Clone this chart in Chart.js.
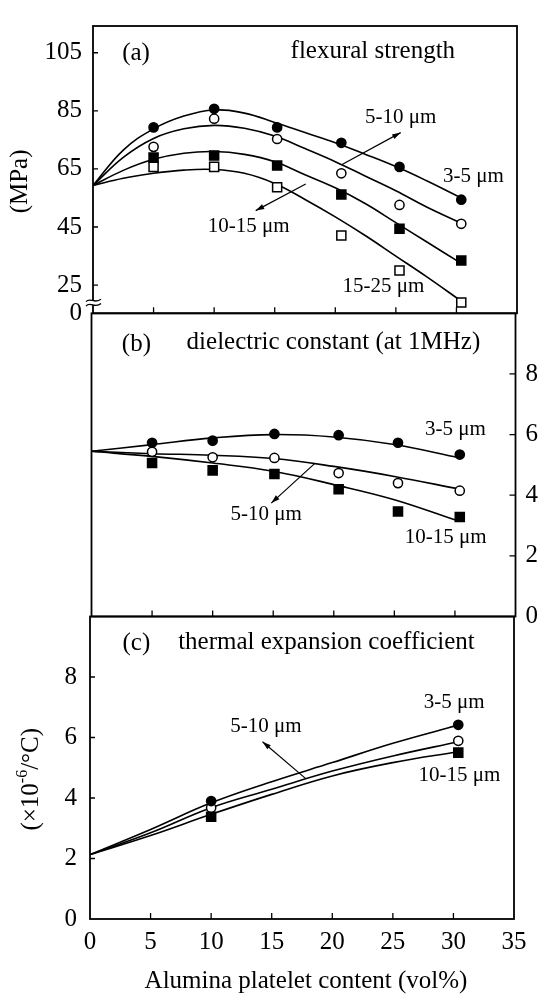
<!DOCTYPE html>
<html>
<head>
<meta charset="utf-8">
<script src="https://cdn.jsdelivr.net/npm/chart.js@4.4.1/dist/chart.umd.min.js"></script>
<style>
  body { margin: 0; background: #fff; }
  #wrap { position: relative; width: 539px; height: 997px; }
  canvas { position: absolute; left: 0; top: 0; }
</style>
</head>
<body>
<div id="wrap">
  <canvas id="chartA" width="539" height="997"></canvas>
  <canvas id="chartB" width="539" height="997"></canvas>
  <canvas id="chartC" width="539" height="997"></canvas>
</div>
<script>
// (a) flexural strength, MPa
let contentA = [5, 10, 15.2, 20.5, 25.3, 30.4];
let strength35 = [79.3, 85.7, 79.3, 74.0, 65.7, 54.4];
let strength510 = [72.6, 82.3, 75.3, 63.5, 52.6, 46.1];
let strength1015 = [68.9, 69.6, 66.2, 56.2, 44.4, 33.5];
let strength1525 = [65.7, 65.7, 58.7, 42.1, 30.0, 19.0];
let fitXA = [0, 2.5, 5, 7.5, 10, 12.5, 15, 17.5, 20, 22.5, 25, 27.5, 30.4];
let fitStrength35 = [59.3, 71.5, 78.8, 83.2, 85.3, 84.2, 81, 77.5, 74, 70, 65.8, 61, 55];
let fitStrength510 = [59.3, 69, 75.5, 78.8, 80, 79, 76.3, 72, 67.5, 62.5, 57.5, 52, 46.3];
let fitStrength1015 = [59.3, 64.5, 68.3, 70.4, 71, 70, 67.5, 63, 58.5, 53, 46.5, 40, 32.5];
let fitStrength1525 = [59.3, 61.8, 63.5, 64.6, 64.8, 63.5, 60, 54.5, 48.5, 42, 35, 28, 19.5];
let yTicksA = [15.3, 25, 45, 65, 85, 105];

// (b) dielectric constant at 1MHz
let contentB = [5, 10, 15.1, 20.4, 25.3, 30.4];
let dielectric35 = [5.73, 5.80, 6.02, 5.98, 5.73, 5.34];
let dielectric510 = [5.43, 5.25, 5.23, 4.73, 4.40, 4.15];
let dielectric1015 = [5.06, 4.82, 4.70, 4.20, 3.46, 3.28];
let fitXB = [0, 5, 10, 15, 20, 25, 30.4];
let fitDielectric35 = [5.45, 5.67, 5.89, 6.0, 5.92, 5.67, 5.23];
let fitDielectric510 = [5.45, 5.37, 5.32, 5.21, 4.95, 4.62, 4.2];
let fitDielectric1015 = [5.45, 5.28, 5.06, 4.79, 4.35, 3.85, 3.13];

// (c) thermal expansion coefficient, x10^-6/°C
let contentC = [10, 30.4];
let thermal35 = [3.90, 6.42];
let thermal510 = [3.68, 5.89];
let thermal1015 = [3.38, 5.50];
let fitXC = [0, 5, 10, 15, 20, 25, 30.4];
let fitThermal35 = [2.13, 2.96, 3.84, 4.54, 5.17, 5.81, 6.41];
let fitThermal510 = [2.13, 2.85, 3.68, 4.29, 4.89, 5.39, 5.86];
let fitThermal1015 = [2.13, 2.76, 3.46, 4.12, 4.73, 5.17, 5.53];

let xTicks = [0, 5, 10, 15, 20, 25, 30, 35];
let yTicks = [0, 2, 4, 6, 8];

const FONT = "'Liberation Serif', 'Times New Roman', serif";

function pts(xs, ys) {
  return xs.map((x, i) => ({ x: x, y: ys[i] }));
}

function marks(xs, ys, style, filled) {
  return {
    type: 'scatter',
    data: pts(xs, ys),
    pointStyle: style,
    pointRadius: style === 'rect' ? 6.4 : 4.6,
    pointHoverRadius: style === 'rect' ? 6.4 : 4.6,
    pointBackgroundColor: filled ? '#000' : '#fff',
    pointBorderColor: '#000',
    pointBorderWidth: 1.5,
    order: 0
  };
}

function fit(xs, ys) {
  return {
    type: 'line',
    data: pts(xs, ys),
    borderColor: '#000',
    borderWidth: 1.6,
    pointRadius: 0,
    tension: 0.4,
    fill: false,
    order: 1
  };
}

function drawArrow(ctx, x1, y1, x2, y2) {
  ctx.beginPath();
  ctx.moveTo(x1, y1);
  ctx.lineTo(x2, y2);
  ctx.stroke();
  const ang = Math.atan2(y2 - y1, x2 - x1);
  ctx.beginPath();
  ctx.moveTo(x2, y2);
  ctx.lineTo(x2 - 9 * Math.cos(ang - 0.3), y2 - 9 * Math.sin(ang - 0.3));
  ctx.lineTo(x2 - 9 * Math.cos(ang + 0.3), y2 - 9 * Math.sin(ang + 0.3));
  ctx.closePath();
  ctx.fill();
}

// frame, inward ticks, labels and arrows
function decor(opts) {
  return {
    id: 'decor',
    afterDraw(chart) {
      const ctx = chart.ctx, a = chart.chartArea;
      const xs = chart.scales.x, ys = chart.scales.y;
      ctx.save();
      ctx.strokeStyle = '#000';
      ctx.fillStyle = '#000';
      ctx.lineWidth = 1.8;
      ctx.strokeRect(a.left, a.top, a.right - a.left, a.bottom - a.top);

      ctx.lineWidth = 1.3;
      ctx.beginPath();
      xTicks.slice(1, -1).forEach(v => {
        const px = xs.getPixelForValue(v);
        ctx.moveTo(px, a.bottom);
        ctx.lineTo(px, a.bottom - 6);
      });
      opts.yTicks.forEach(v => {
        const py = ys.getPixelForValue(v);
        if (opts.side === 'left') {
          ctx.moveTo(a.left, py);
          ctx.lineTo(a.left + 5, py);
        } else {
          ctx.moveTo(a.right, py);
          ctx.lineTo(a.right - 6, py);
        }
      });
      ctx.stroke();

      ctx.textAlign = 'center';
      ctx.textBaseline = 'middle';
      opts.texts.forEach(t => {
        ctx.font = t.size + 'px ' + FONT;
        ctx.fillText(t.t, xs.getPixelForValue(t.x), ys.getPixelForValue(t.y));
      });

      ctx.lineWidth = 1.2;
      opts.arrows.forEach(ar => {
        drawArrow(ctx, xs.getPixelForValue(ar[0]), ys.getPixelForValue(ar[1]),
          xs.getPixelForValue(ar[2]), ys.getPixelForValue(ar[3]));
      });

      if (opts.extra) opts.extra(chart, ctx);
      ctx.restore();
    }
  };
}

function baseOptions(pad, xHeight, showX) {
  return {
    responsive: false,
    animation: false,
    devicePixelRatio: 1,
    layout: { padding: pad },
    plugins: { legend: { display: false }, tooltip: { enabled: false } },
    events: [],
    scales: {
      x: {
        type: 'linear',
        min: 0,
        max: 35,
        afterBuildTicks: s => { s.ticks = xTicks.map(v => ({ value: v })); },
        ticks: {
          display: showX,
          autoSkip: false,
          maxRotation: 0,
          padding: 8,
          color: '#000',
          font: { family: FONT, size: 25 }
        },
        grid: { display: false, drawTicks: false },
        border: { display: false },
        afterFit: s => { s.height = xHeight; }
      }
    }
  };
}

// (a)
const optsA = baseOptions({ left: 0, right: 22, top: 6, bottom: 0 }, 997 - 313.3, false);
optsA.scales.y = {
  type: 'linear',
  position: 'left',
  min: 15.3,
  max: 114.2,
  afterBuildTicks: s => { s.ticks = yTicksA.map(v => ({ value: v })); },
  ticks: {
    autoSkip: false,
    crossAlign: 'near',
    padding: 11,
    color: '#000',
    font: { family: FONT, size: 25 },
    callback: v => (v < 20 ? '0' : v)
  },
  grid: { display: false, drawTicks: false },
  border: { display: false },
  afterFit: s => { s.width = 93; }
};

new Chart(document.getElementById('chartA'), {
  type: 'scatter',
  data: {
    datasets: [
      marks(contentA, strength35, 'circle', true),
      marks(contentA, strength510, 'circle', false),
      marks(contentA, strength1015, 'rect', true),
      marks(contentA, strength1525, 'rect', false),
      fit(fitXA, fitStrength35),
      fit(fitXA, fitStrength510),
      fit(fitXA, fitStrength1015),
      fit(fitXA, fitStrength1525)
    ]
  },
  options: optsA,
  plugins: [decor({
    side: 'left',
    yTicks: [25, 45, 65, 85, 105],
    texts: [
      { t: '(a)', x: 3.55, y: 104.8, size: 25 },
      { t: 'flexural strength', x: 23.1, y: 105.4, size: 25 },
      { t: '5-10 μm', x: 25.4, y: 82.6, size: 21 },
      { t: '3-5 μm', x: 31.4, y: 62.4, size: 21 },
      { t: '10-15 μm', x: 12.86, y: 45.3, size: 21 },
      { t: '15-25 μm', x: 23.98, y: 24.6, size: 21 }
    ],
    arrows: [
      [20.56, 66.5, 25.4, 77.5],
      [17.56, 59.8, 13.43, 50.65]
    ],
    extra: (chart, ctx) => {
      const a = chart.chartArea, ys = chart.scales.y;
      // axis break
      const yb = ys.getPixelForValue(18.9);
      ctx.fillStyle = '#fff';
      ctx.fillRect(a.left - 3, yb - 2, 6, 4);
      ctx.lineWidth = 1.3;
      [-2.2, 2.2].forEach(d => {
        ctx.beginPath();
        ctx.moveTo(a.left - 7, yb + d + 1);
        ctx.bezierCurveTo(a.left - 3, yb + d - 4, a.left + 2, yb + d + 4, a.left + 8, yb + d - 1.5);
        ctx.stroke();
      });
      // y title
      ctx.fillStyle = '#000';
      ctx.save();
      ctx.translate(20, ys.getPixelForValue(60.7));
      ctx.rotate(-Math.PI / 2);
      ctx.font = '25px ' + FONT;
      ctx.textAlign = 'center';
      ctx.textBaseline = 'middle';
      ctx.fillText('(MPa)', 0, 0);
      ctx.restore();
    }
  })]
});

// (b)
const optsB = baseOptions({ left: 91.5, right: 0, top: 313.3, bottom: 0 }, 997 - 616.5, false);
optsB.scales.y = {
  type: 'linear',
  position: 'right',
  min: 0,
  max: 10,
  afterBuildTicks: s => { s.ticks = yTicks.map(v => ({ value: v })); },
  ticks: {
    autoSkip: false,
    crossAlign: 'near',
    padding: 10,
    color: '#000',
    font: { family: FONT, size: 25 }
  },
  grid: { display: false, drawTicks: false },
  border: { display: false },
  afterFit: s => { s.width = 539 - 515.5; }
};

new Chart(document.getElementById('chartB'), {
  type: 'scatter',
  data: {
    datasets: [
      marks(contentB, dielectric35, 'circle', true),
      marks(contentB, dielectric510, 'circle', false),
      marks(contentB, dielectric1015, 'rect', true),
      fit(fitXB, fitDielectric35),
      fit(fitXB, fitDielectric510),
      fit(fitXB, fitDielectric1015)
    ]
  },
  options: optsB,
  plugins: [decor({
    side: 'right',
    yTicks: [2, 4, 6, 8],
    texts: [
      { t: '(b)', x: 3.71, y: 8.98, size: 25 },
      { t: 'dielectric constant (at 1MHz)', x: 19.97, y: 9.03, size: 25 },
      { t: '3-5 μm', x: 30.04, y: 6.17, size: 21 },
      { t: '5-10 μm', x: 14.41, y: 3.36, size: 21 },
      { t: '10-15 μm', x: 29.24, y: 2.59, size: 21 }
    ],
    arrows: [
      [18.46, 5.06, 14.84, 3.74]
    ]
  })]
});

// (c)
const optsC = baseOptions({ left: 0, right: 25, top: 616.5, bottom: 0 }, 997 - 919, true);
optsC.scales.y = {
  type: 'linear',
  position: 'left',
  min: 0,
  max: 10,
  afterBuildTicks: s => { s.ticks = yTicks.map(v => ({ value: v })); },
  ticks: {
    autoSkip: false,
    crossAlign: 'near',
    padding: 13,
    color: '#000',
    font: { family: FONT, size: 25 }
  },
  grid: { display: false, drawTicks: false },
  border: { display: false },
  afterFit: s => { s.width = 90; }
};

new Chart(document.getElementById('chartC'), {
  type: 'scatter',
  data: {
    datasets: [
      marks(contentC, thermal35, 'circle', true),
      marks(contentC, thermal510, 'circle', false),
      marks(contentC, thermal1015, 'rect', true),
      fit(fitXC, fitThermal35),
      fit(fitXC, fitThermal510),
      fit(fitXC, fitThermal1015)
    ]
  },
  options: optsC,
  plugins: [decor({
    side: 'left',
    yTicks: [2, 4, 6, 8],
    texts: [
      { t: '(c)', x: 3.83, y: 9.10, size: 25 },
      { t: 'thermal expansion coefficient', x: 19.52, y: 9.14, size: 25 },
      { t: '3-5 μm', x: 30.07, y: 7.17, size: 21 },
      { t: '5-10 μm', x: 14.53, y: 6.37, size: 21 },
      { t: '10-15 μm', x: 30.5, y: 4.73, size: 21 }
    ],
    arrows: [
      [17.81, 4.64, 14.24, 5.86]
    ],
    extra: (chart, ctx) => {
      const a = chart.chartArea, ys = chart.scales.y;
      // x title
      ctx.font = '25px ' + FONT;
      ctx.textAlign = 'center';
      ctx.textBaseline = 'middle';
      ctx.fillText('Alumina platelet content (vol%)', (a.left + a.right) / 2 + 4, 981);
      // y title with superscript
      ctx.save();
      ctx.translate(31, ys.getPixelForValue(4.62));
      ctx.rotate(-Math.PI / 2);
      ctx.textAlign = 'left';
      ctx.textBaseline = 'middle';
      const p1 = '(×10', p2 = '-6', p3 = '/°C)';
      ctx.font = '25px ' + FONT;
      const w1 = ctx.measureText(p1).width, w3 = ctx.measureText(p3).width;
      ctx.font = '16px ' + FONT;
      const w2 = ctx.measureText(p2).width;
      let x = -(w1 + w2 + w3) / 2;
      ctx.font = '25px ' + FONT;
      ctx.fillText(p1, x, 0);
      x += w1;
      ctx.font = '16px ' + FONT;
      ctx.fillText(p2, x, -8);
      x += w2;
      ctx.font = '25px ' + FONT;
      ctx.fillText(p3, x, 0);
      ctx.restore();
    }
  })]
});
</script>
</body>
</html>
